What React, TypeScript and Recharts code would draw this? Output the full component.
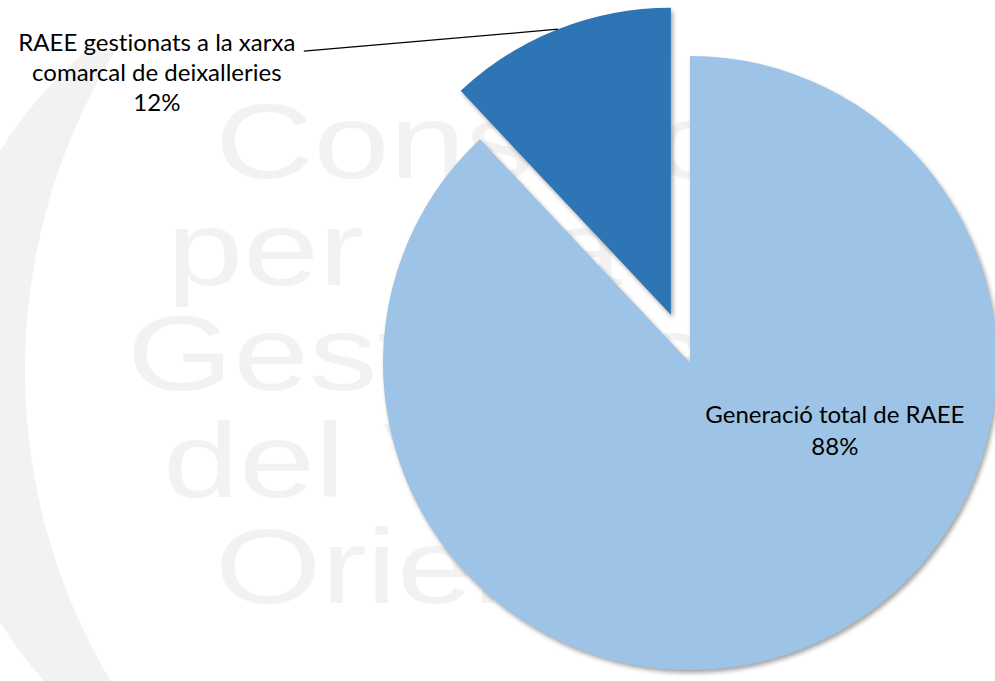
import { PieChart, Pie, Cell } from "recharts"

// Data
const sliceNames = ["Generació total de RAEE", "RAEE gestionats a la xarxa comarcal de deixalleries"]
const sliceValues = [88, 12]
const sliceColors = ["#9DC3E6", "#2E75B6"]
const bigLabelLines = ["Generació total de RAEE", "88%"]
const smallLabelLines = ["RAEE gestionats a la xarxa", "comarcal de deixalleries", "12%"]
const watermarkLines = ["Consorci", "per a la", "Gestió de Residus", "del Vallès", "Oriental"]

// Layout
const WIDTH = 995
const HEIGHT = 681
const CX = 690
const CY = 363
const RADIUS = 307
const EXPLODE = 52
const START = 90
const END = -270
const RAD = Math.PI / 180
const watermarkPos = [
  [215, 178],
  [167, 285],
  [127, 390],
  [163, 497],
  [215, 603],
]
const LABEL_FONT = "Lato, 'Open Sans', sans-serif"
const LABEL_SIZE = 24

const chartData = sliceNames.map((name, i) => ({ name, value: sliceValues[i] }))

// exploded slice offset, from its mid angle
const total = sliceValues.reduce((a, b) => a + b, 0)
const smallMid = START - ((sliceValues[0] + sliceValues[1] / 2) / total) * 360
const explodeX = EXPLODE * Math.cos(smallMid * RAD)
const explodeY = -EXPLODE * Math.sin(smallMid * RAD)

const labelStyle = { fontVariantLigatures: "none" as const }

function BigLabel(props: any) {
  const { cx, cy, outerRadius, index } = props
  if (index !== 0) return <g />
  const x = cx + outerRadius * 0.472
  const y = cy + outerRadius * 0.195
  return (
    <text x={x} y={y} textAnchor="middle" fill="#000" fontFamily={LABEL_FONT} fontSize={LABEL_SIZE} style={labelStyle}>
      {bigLabelLines.map((line, i) => (
        <tspan key={i} x={x} dy={i === 0 ? 0 : 32}>
          {line}
        </tspan>
      ))}
    </text>
  )
}

function SmallLabel(props: any) {
  const { cx, cy, outerRadius, midAngle, index } = props
  if (index !== 1) return <g />
  const px = cx + outerRadius * Math.cos(-midAngle * RAD)
  const py = cy + outerRadius * Math.sin(-midAngle * RAD)
  const lx = px - 254
  const ly = py + 22
  const tx = px - 401
  return (
    <g>
      <line x1={px} y1={py} x2={lx} y2={ly} stroke="#000" strokeWidth={1.2} />
      <text x={tx} y={ly} textAnchor="middle" fill="#000" fontFamily={LABEL_FONT} fontSize={LABEL_SIZE} style={labelStyle}>
        {smallLabelLines.map((line, i) => (
          <tspan key={i} x={tx} dy={i === 0 ? 0 : 30}>
            {line}
          </tspan>
        ))}
      </text>
    </g>
  )
}

function Watermark() {
  return (
    <svg width={WIDTH} height={HEIGHT} style={{ position: "absolute", left: 0, top: 0 }}>
      <path
        d="M 86.9 50 A 443 443 0 0 0 62 700 L 122.3 700 A 608 608 0 0 1 116 50 Z"
        fill="#f2f2f2"
      />
      <g fill="#f2f2f2" fontFamily="'Liberation Sans', Arial, sans-serif" fontSize={105}>
        {watermarkLines.map((line, i) => (
          <text key={i} x={watermarkPos[i][0] / 1.3} y={watermarkPos[i][1]} transform="scale(1.3,1)">
            {line}
          </text>
        ))}
      </g>
    </svg>
  )
}

export default function App() {
  return (
    <div style={{ position: "relative", width: WIDTH, height: HEIGHT, background: "#fff" }}>
      <style>{`
        body { margin: 0; }
        .recharts-pie-sector path { filter: drop-shadow(2px 3px 2px rgba(0,0,0,0.35)); }
        .recharts-wrapper, .recharts-surface { outline: none; }
      `}</style>
      <Watermark />
      <div style={{ position: "absolute", left: 0, top: 0 }}>
        <PieChart width={WIDTH} height={HEIGHT} margin={{ top: 0, right: 0, bottom: 0, left: 0 }}>
          <Pie
            data={chartData}
            dataKey="value"
            nameKey="name"
            cx={CX}
            cy={CY}
            outerRadius={RADIUS}
            startAngle={START}
            endAngle={END}
            stroke="none"
            label={BigLabel}
            labelLine={false}
            isAnimationActive={false}
          >
            {chartData.map((d, i) => (
              <Cell key={d.name} fill={i === 0 ? sliceColors[i] : "none"} stroke="none" />
            ))}
          </Pie>
          <Pie
            data={chartData}
            dataKey="value"
            nameKey="name"
            cx={CX + explodeX}
            cy={CY + explodeY}
            outerRadius={RADIUS}
            startAngle={START}
            endAngle={END}
            stroke="none"
            label={SmallLabel}
            labelLine={false}
            isAnimationActive={false}
          >
            {chartData.map((d, i) => (
              <Cell key={d.name} fill={i === 1 ? sliceColors[i] : "none"} stroke="none" />
            ))}
          </Pie>
        </PieChart>
      </div>
    </div>
  )
}
